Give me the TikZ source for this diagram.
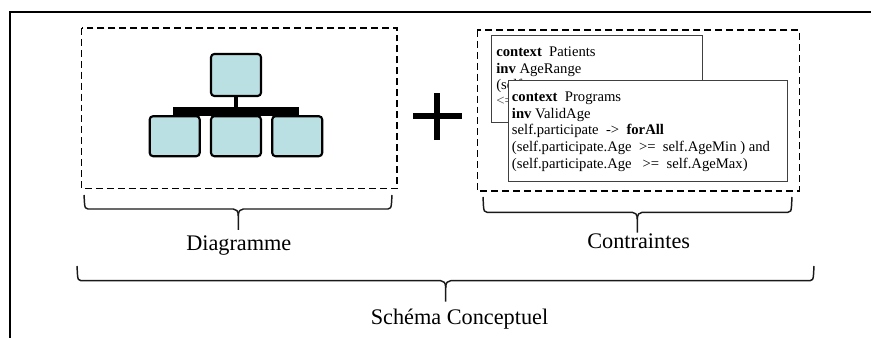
\documentclass[tikz,border=0pt]{standalone}
\usepackage{fontspec}
\setmainfont{Liberation Serif}
\definecolor{orgfill}{HTML}{BBE0E3}
\tikzset{
  x=0.75pt,y=-0.75pt,
  frameline/.style={draw=black,line width=1.5pt},
  dashbox/.style={draw=black,line width=1.15pt,dash pattern=on 5.2pt off 3pt},
  orgbox/.style={draw=black,fill=orgfill,line width=1.6pt,rounded corners=2.5pt,inner sep=0pt,outer sep=0pt,minimum width=37.5pt,minimum height=#1},
  orgbox/.default=30pt,
  oclbox/.style={draw=black!75,fill=white,line width=0.9pt},
  ocltext/.style={anchor=base west,inner sep=0pt,font=\fontsize{11pt}{13pt}\selectfont},
  bracelabel/.style={anchor=base,inner sep=0pt,font=\fontsize{16.7pt}{20pt}\selectfont},
  bracepath/.style={draw=black!90,line width=1.1pt,line join=round},
}
\newcommand{\bracedraw}[6]{% left right top mid tipx bottom
  \draw[bracepath] (#1,#3) -- (#1+0.5,#4-6) .. controls (#1+0.8,#4-1.5) and (#1+1.5,#4) .. (#1+4,#4) -- (#5-5,#4) .. controls (#5-2,#4) and (#5,#4+2) .. (#5,#4+7) -- (#5,#6);
  \draw[bracepath] (#2,#3) -- (#2-0.5,#4-6) .. controls (#2-0.8,#4-1.5) and (#2-1.5,#4) .. (#2-4,#4) -- (#5+5,#4) .. controls (#5+2,#4) and (#5,#4+2) .. (#5,#4+7);
}
\begin{document}
\begin{tikzpicture}
\useasboundingbox (0,0) rectangle (871,338);
% outer frame
\coordinate (fbl) at (9.5,338);
\coordinate (ftl) at (9.5,12);
\coordinate (ftr) at (871,12);
\draw[frameline] (fbl) -- (ftl) -- (ftr);
% left dashed box
\draw[dashbox] (81.7,28) rectangle (397,188.7);
% org chart
\node[fill=black,inner sep=0pt,outer sep=0pt,minimum width=94.5pt,minimum height=6.5pt] (bar) at (236,111.6) {};
\node[orgbox=31.5pt] (top) at (236,75) {};
\node[orgbox] (bl) at (174.7,136.2) {};
\node[orgbox] (bm) at (236,136.2) {};
\node[orgbox] (br) at (297.2,136.2) {};
\draw[black,line width=2.4pt] (top.south) -- (top.south |- bar.north);
% plus
\fill[black] (434.3,92.7) rectangle (440.3,140);
\fill[black] (413,113) rectangle (461.5,119);
% right dashed box
\draw[dashbox] (477.3,30) rectangle (799.3,191);
% OCL box 1
\draw[oclbox] (491.7,35.7) rectangle (702.3,122.3);
\node[ocltext] (a1) at (496,56.7) {\textbf{context}\ \ Patients};
\node[ocltext] (a2) at (496,73.3) {\textbf{inv} AgeRange};
\node[ocltext] (a3) at (496,90) {(self};
\node[ocltext,text=black!70] (a4) at (496,106) {<=};
% OCL box 2
\draw[oclbox] (508.7,80.3) rectangle (787.3,181.3);
\node[ocltext] (b1) at (511.7,101.7) {\textbf{context}\ \ Programs};
\node[ocltext] (b2) at (511.7,118.3) {\textbf{inv} ValidAge};
\node[ocltext] (b3) at (511.7,135) {self.participate\ \ ->\ \ \textbf{forAll}};
\node[ocltext] (b4) at (511.7,151.7) {(self.participate.Age\ \ >=\ \ self.AgeMin ) and};
\node[ocltext] (b5) at (511.7,169) {(self.participate.Age\ \ \ >=\ \ self.AgeMax)};
% braces
\bracedraw{84}{392}{195}{209}{238.3}{230}
\bracedraw{483}{792}{197}{212.3}{637.3}{232.7}
\bracedraw{77}{814}{266}{280.7}{445.7}{301.7}
\node[bracelabel] (d) at (238.8,250.5) {Diagramme};
\node[bracelabel] (c) at (638.7,249) {Contraintes};
\node[bracelabel] (s) at (459.5,324.3) {Schéma Conceptuel};
\end{tikzpicture}
\end{document}
